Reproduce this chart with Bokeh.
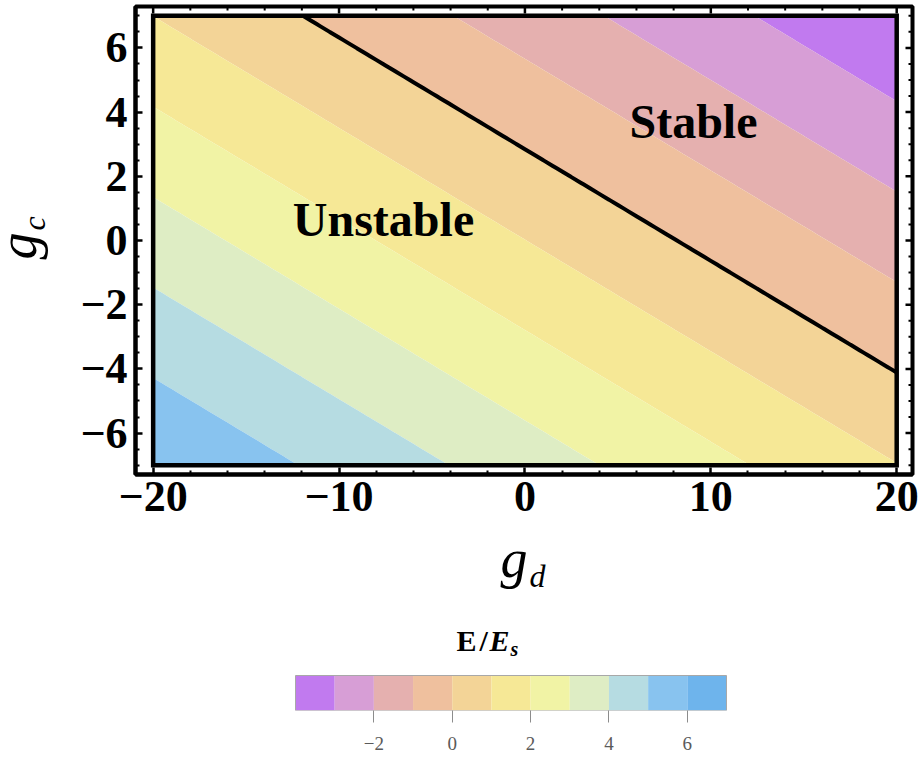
import numpy as np
from bokeh.plotting import figure
from bokeh.layouts import gridplot
from bokeh.models import Range1d, FixedTicker, Label
from bokeh.embed import file_html
from bokeh.resources import INLINE

# ---------------- data ----------------
gd_limits = [-20.0, 20.0]          # g_d extent of the contour region
gc_limits = [-7.0, 7.0]            # g_c extent of the contour region
E_at_origin = 1.01                 # E/E_s at g_d = g_c = 0
dE_dgd = -0.1235                   # change of E/E_s per unit g_d
dE_dgc = -0.355                    # change of E/E_s per unit g_c
levels = [-4, -3, -2, -1, 0, 1, 2, 3, 4, 5, 6, 7]
palette = ["#C17AEF", "#D79ED6", "#E5B0AF", "#EFC09E", "#F3D497", "#F6E896",
           "#F1F3A5", "#DEEDC4", "#B6DCE2", "#88C3EF", "#6EB4EC"]
stable_level = [0]
x_ticks = [-20, -10, 0, 10, 20]
y_ticks = [-6, -4, -2, 0, 2, 4, 6]
cbar_ticks = [-2, 0, 2, 4, 6]
region_labels = ["Stable", "Unstable"]

# ---------------- field on a grid ----------------
gd = np.linspace(gd_limits[0], gd_limits[1], 81)
gc = np.linspace(gc_limits[0], gc_limits[1], 57)
GD, GC = np.meshgrid(gd, gc)
E = E_at_origin + dE_dgd * GD + dE_dgc * GC

# ---------------- page geometry ----------------
LEFT_W = 70                      # narrow figure holding the g_c title
W_MAIN = 920 - LEFT_W
H1 = 540
FL, FR, FT, FB = 135, 912, 6, 474          # main frame on the page
XR = (-20.95, 20.85)
YR = (-7.29, 7.29)
PX_X = (FR - FL) / (XR[1] - XR[0])
PX_Y = (FB - FT) / (YR[1] - YR[0])
BASE_SHIFT = 0.35                # baseline correction (em) for labels


def to_data(px, py, size=0):
    x = XR[0] + (px - FL) / PX_X
    y = YR[1] - (py - FT - BASE_SHIFT * size) / PX_Y
    return x, y


SERIF = "Liberation Serif"

# ---------------- main figure ----------------
p = figure(width=W_MAIN, height=H1, x_range=Range1d(*XR), y_range=Range1d(*YR),
           output_backend="svg", toolbar_location=None,
           min_border_left=FL - LEFT_W, min_border_right=920 - FR,
           min_border_top=FT, min_border_bottom=H1 - FB)
p.grid.visible = False
p.outline_line_color = "black"
p.outline_line_width = 4
p.background_fill_color = "white"

p.contour(GD, GC, E, levels, fill_color=palette, line_color=None)
p.contour(GD, GC, E, stable_level, line_color="black", line_width=4)
p.quad(left=[gd_limits[0]], right=[gd_limits[1]], bottom=[gc_limits[0]], top=[gc_limits[1]],
       fill_color=None, line_color="black", line_width=4.5, line_join="miter")

x_minor = [v for v in range(-20, 21, 2) if v not in x_ticks]
y_minor = [v / 2 for v in range(-14, 15) if (v / 2) not in y_ticks]


def fmt(v):
    return ("\u2212" + str(abs(v))) if v < 0 else str(v)


bottom_ax = p.below[0]
left_ax = p.left[0]
MAJ, MIN = 7, 4
for ax, ticks, minor in [(bottom_ax, x_ticks, x_minor), (left_ax, y_ticks, y_minor)]:
    ax.ticker = FixedTicker(ticks=ticks, minor_ticks=minor)
    ax.axis_line_color = "black"
    ax.axis_line_width = 4
    ax.major_tick_in = MAJ
    ax.major_tick_out = 0
    ax.major_tick_line_width = 2.5
    ax.minor_tick_in = MIN
    ax.minor_tick_out = 0
    ax.minor_tick_line_width = 2
    ax.major_label_overrides = {t: fmt(t) for t in ticks}
    ax.major_label_text_font = SERIF
    ax.major_label_text_font_style = "bold"
    ax.major_label_text_font_size = "44px"
    ax.major_label_text_color = "black"
bottom_ax.major_label_standoff = 7
left_ax.major_label_standoff = 8

# mirrored inward ticks on the top and right frame edges
top_y = YR[1]
p.segment(x0=x_ticks, y0=[top_y] * len(x_ticks), x1=x_ticks,
          y1=[top_y - MAJ / PX_Y] * len(x_ticks), line_color="black", line_width=2.5)
p.segment(x0=x_minor, y0=[top_y] * len(x_minor), x1=x_minor,
          y1=[top_y - MIN / PX_Y] * len(x_minor), line_color="black", line_width=2)
right_x = XR[1]
p.segment(x0=[right_x] * len(y_ticks), y0=y_ticks, x1=[right_x - MAJ / PX_X] * len(y_ticks),
          y1=y_ticks, line_color="black", line_width=2.5)
p.segment(x0=[right_x] * len(y_minor), y0=y_minor, x1=[right_x - MIN / PX_X] * len(y_minor),
          y1=y_minor, line_color="black", line_width=2)

# region labels
sx, sy = to_data(693, 138, 48)
p.add_layout(Label(x=sx, y=sy, text=region_labels[0], text_font=SERIF, text_font_style="bold",
                   text_font_size="48px", text_align="center", text_baseline="alphabetic",
                   text_color="black"))
ux, uy = to_data(383, 236, 48)
p.add_layout(Label(x=ux, y=uy, text=region_labels[1], text_font=SERIF, text_font_style="bold",
                   text_font_size="48px", text_align="center", text_baseline="alphabetic",
                   text_color="black"))

# ---------------- left strip with the rotated g_c title ----------------
pg = figure(width=LEFT_W, height=H1, x_range=Range1d(0, LEFT_W), y_range=Range1d(0, FB - FT),
            output_backend="svg", toolbar_location=None,
            min_border_left=0, min_border_right=0, min_border_top=FT, min_border_bottom=H1 - FB)
pg.axis.visible = False
pg.grid.visible = False
pg.outline_line_color = None


def to_g(px, py, size=0):
    return px - BASE_SHIFT * size, FB - py


gx, gy = to_g(36, 259, 54)
pg.add_layout(Label(x=gx, y=gy, text="g", text_font=SERIF, text_font_style="italic",
                    text_font_size="54px", text_baseline="alphabetic", angle=np.pi / 2,
                    text_color="black"))
cx, cy = to_g(45, 230, 32)
pg.add_layout(Label(x=cx, y=cy, text="c", text_font=SERIF, text_font_style="italic",
                    text_font_size="32px", text_baseline="alphabetic", angle=np.pi / 2,
                    text_color="black"))

# ---------------- lower figure: g_d title and the colour bar ----------------
H2 = 758 - H1
CL, CR = 295, 726                 # bar left/right on the page
BAR_TOP, BAR_BOT = 675, 710       # bar top/bottom on the page
cb_scale = (levels[-1] - levels[0]) / (CR - CL)
CXR = (levels[0] - (CL - FL) * cb_scale, levels[-1] + (FR - CR) * cb_scale)
BAR_H = BAR_BOT - BAR_TOP
CYR = (0, (BAR_BOT - H1) / BAR_H)
p2 = figure(width=W_MAIN, height=H2, x_range=Range1d(*CXR), y_range=Range1d(*CYR),
            output_backend="svg", toolbar_location=None,
            min_border_left=FL - LEFT_W, min_border_right=920 - FR,
            min_border_top=0, min_border_bottom=758 - BAR_BOT)
p2.grid.visible = False
p2.yaxis.visible = False
p2.outline_line_color = None
p2.quad(left=levels[:-1], right=levels[1:], bottom=0, top=1, fill_color=palette, line_color=None)
p2.quad(left=[levels[0]], right=[levels[-1]], bottom=[0], top=[1], fill_color=None,
        line_color="#A8A8A8", line_width=1)
xa = p2.below[0]
xa.ticker = FixedTicker(ticks=cbar_ticks)
xa.axis_line_color = None
xa.major_tick_in = 0
xa.major_tick_out = 12
xa.major_tick_line_color = "#8C8C8C"
xa.major_tick_line_width = 1
xa.minor_tick_line_color = None
xa.major_label_overrides = {t: fmt(t) for t in cbar_ticks}
xa.major_label_text_font = SERIF
xa.major_label_text_font_size = "19px"
xa.major_label_text_color = "#5A5A5A"
xa.major_label_standoff = 14


def to_cb(px, py, size=0):
    x = CXR[0] + (px - FL) * cb_scale
    y = (BAR_BOT - (py - BASE_SHIFT * size)) / BAR_H
    return x, y


tx, ty = to_cb(500, 577, 54)
p2.add_layout(Label(x=tx, y=ty, text="g", text_font=SERIF, text_font_style="italic",
                    text_font_size="54px", text_baseline="alphabetic", text_color="black"))
tx, ty = to_cb(529, 587, 32)
p2.add_layout(Label(x=tx, y=ty, text="d", text_font=SERIF, text_font_style="italic",
                    text_font_size="32px", text_baseline="alphabetic", text_color="black"))

# colour-bar title  E/E_s
for txt, px_, py_, size, style in [("E", 456, 650, 30, "bold"),
                                   ("/", 479, 650, 30, "bold"),
                                   ("E", 489, 650, 30, "bold italic"),
                                   ("s", 510, 655, 20, "bold italic")]:
    tx, ty = to_cb(px_, py_, size)
    p2.add_layout(Label(x=tx, y=ty, text=txt, text_font=SERIF, text_font_style=style,
                        text_font_size=f"{size}px", text_baseline="alphabetic",
                        text_color="black"))

layout = gridplot([[pg, p], [None, p2]], toolbar_location=None)
open("out.html", "w").write(file_html(layout, INLINE))
